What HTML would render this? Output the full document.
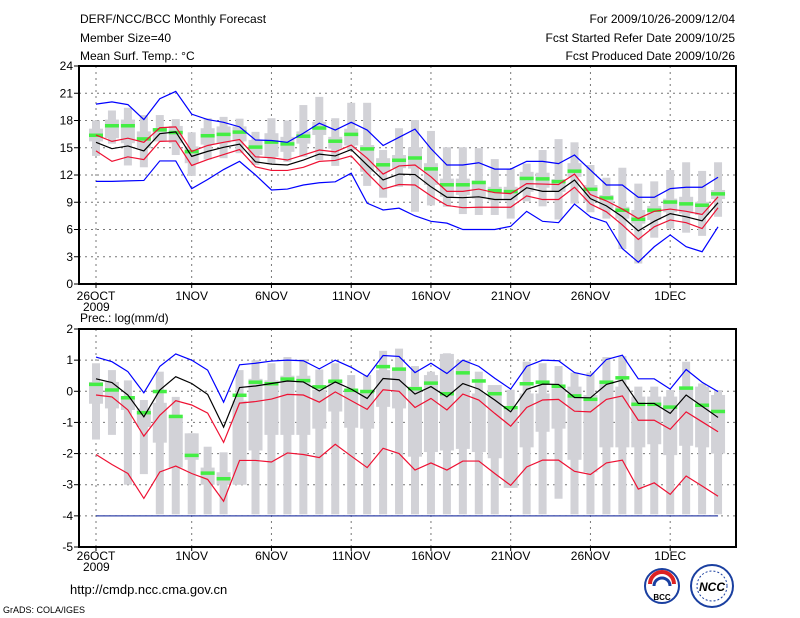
<!DOCTYPE html>
<html><head><meta charset="utf-8"><style>
html,body{margin:0;padding:0;background:#fff;width:800px;height:618px;overflow:hidden}
text{font-family:"Liberation Sans",sans-serif;fill:#000}
</style></head><body>
<svg id="chart" width="800" height="618" viewBox="0 0 800 618" xmlns="http://www.w3.org/2000/svg">
<g font-size="12">
<text x="80" y="23">DERF/NCC/BCC Monthly Forecast</text>
<text x="80" y="42">Member Size=40</text>
<text x="80" y="60">Mean Surf. Temp.: °C</text>
<text x="735" y="23" text-anchor="end">For 2009/10/26-2009/12/04</text>
<text x="735" y="42" text-anchor="end">Fcst Started Refer Date 2009/10/25</text>
<text x="735" y="60" text-anchor="end">Fcst Produced Date 2009/10/26</text>
</g>
<text x="80" y="322" font-size="12">Prec.: log(mm/d)</text>
<g id="top"></g>
<g id="bot"></g>
<text x="70" y="594" font-size="13">http://cmdp.ncc.cma.gov.cn</text>
<text x="3" y="613" font-size="9">GrADS: COLA/IGES</text>
<g>
<circle cx="662" cy="586" r="17" fill="#fff" stroke="#1a3fa0" stroke-width="2"/>
<path d="M650 584 a12 12 0 0 1 24 0" fill="none" stroke="#d22" stroke-width="4"/>
<path d="M654 586 a8 8 0 0 1 16 0" fill="none" stroke="#1a3fa0" stroke-width="3"/>
<text x="662" y="600" font-size="8" text-anchor="middle" font-weight="bold" fill="#1a3fa0">BCC</text>
</g>
<g>
<circle cx="712" cy="586" r="21" fill="#fff" stroke="#1a3fa0" stroke-width="2"/>
<ellipse cx="712" cy="586" rx="15" ry="15" fill="none" stroke="#1a3fa0" stroke-width="1" stroke-dasharray="2,2"/>
<text x="712" y="591" font-size="12" text-anchor="middle" font-style="italic" font-weight="bold" fill="#1a3fa0">NCC</text>
</g>
</svg>
<script>
const dayTicks=[0,6,11,16,21,26,31,36];
const dayLabels=["26OCT","1NOV","6NOV","11NOV","16NOV","21NOV","26NOV","1DEC"];
const tTicks=[0,3,6,9,12,15,18,21,24];
const pTicks=[-5,-4,-3,-2,-1,0,1,2];
// temperature
const tBlueMax=[19.8,20.05,19.75,18.1,20.4,21.2,18.7,18.1,17.8,17.3,15.85,15.8,15.6,16.6,17.7,16.95,17.8,16.95,15.25,16.15,17.05,14.9,13.1,13.1,13.35,12.65,12.65,13.5,13.5,13.25,14.2,12.55,10.9,10.9,9.55,9.55,10.5,10.65,10.65,11.75];
const tRedUp=[16.4,15.7,16.05,15.6,17.2,17.3,14.6,15.25,15.6,15.9,14.0,13.9,13.65,14.2,14.75,14.55,15.3,13.85,12.1,13.0,13.1,11.8,10.2,10.2,10.45,10.05,9.95,11.05,11.0,10.95,12.1,9.85,9.15,8.25,7.2,8.0,8.25,8.0,7.65,9.6];
const tMean=[15.6,14.9,15.2,14.65,16.55,16.75,14.05,14.6,15.05,15.4,13.45,13.2,13.1,13.65,14.3,14.1,14.8,13.1,11.45,12.1,12.05,10.7,9.55,9.5,9.6,9.3,9.3,10.6,10.2,10.2,11.45,9.4,8.6,7.4,5.85,6.9,7.75,7.4,6.95,8.95];
const tRedLow=[14.65,13.5,14.0,13.7,15.7,15.75,13.05,13.7,14.25,14.8,12.9,12.5,12.5,12.85,13.5,13.6,14.1,12.2,10.45,10.95,10.9,9.7,8.65,8.4,8.45,8.45,8.45,9.7,9.3,9.3,10.65,8.8,7.95,6.5,4.9,6.3,7.05,6.75,6.1,8.4];
const tBlueMin=[11.3,11.3,11.35,11.4,13.55,13.55,10.5,11.5,12.6,13.5,12.0,10.35,10.45,10.9,11.15,11.25,12.2,8.9,8.15,8.35,7.5,6.9,6.7,6.0,6.0,6.0,6.35,8.0,6.9,6.75,8.8,7.4,6.8,3.9,2.4,4.1,5.4,4.1,3.55,6.3];
const tGreen=[16.4,17.45,17.45,16.0,17.0,16.7,14.6,16.35,16.5,16.75,15.1,15.65,15.45,16.3,17.2,15.75,16.5,14.9,13.15,13.65,13.9,12.7,10.95,10.95,11.2,10.3,10.2,11.65,11.6,11.3,12.45,10.45,9.5,8.15,7.15,8.15,9.05,8.85,8.7,9.95];
const tOutHi=[18.0,19.1,19.4,18.6,18.6,18.15,16.7,18.25,18.4,18.2,16.75,18.25,18.0,19.7,20.6,18.25,19.95,19.95,14.75,17.15,18.05,16.85,15.05,15.05,14.95,13.75,12.7,13.25,14.75,15.95,15.6,13.1,11.7,12.8,11.05,11.3,12.55,13.4,12.45,13.4];
const tOutLo=[14.1,15.45,13.05,12.85,15.7,14.2,11.9,13.7,13.85,14.4,13.1,13.3,13.45,14.0,13.65,13.0,14.75,10.8,9.5,10.7,7.95,8.65,8.5,7.7,7.6,7.6,7.2,9.1,8.55,7.1,8.85,7.9,7.2,3.85,2.25,5.1,6.1,5.65,5.3,7.4];
const tInHi=[17.1,18.1,18.1,16.8,17.15,17.4,15.15,17.15,17.35,17.35,15.85,16.6,16.2,16.8,17.85,16.2,17.1,15.3,13.85,14.2,15.05,13.3,11.6,11.6,11.4,10.7,10.7,12.35,12.25,11.55,13.3,10.9,9.8,8.5,8.15,8.6,9.4,9.6,9.05,10.35];
const tInLo=[15.7,16.05,15.5,14.95,15.7,15.5,13.3,15.35,15.5,15.7,14.2,14.0,14.55,15.45,16.4,14.9,15.25,12.35,12.35,12.75,12.7,10.9,9.6,9.8,9.4,9.2,9.2,10.15,10.6,10.15,11.8,9.05,8.3,7.2,6.65,7.05,7.9,7.75,7.6,9.35];
// precipitation
const pBlueMax=[1.1,0.95,0.63,-0.05,0.8,1.2,1.0,0.68,-0.35,0.85,0.9,0.97,1.0,0.98,0.72,1.0,0.77,0.47,1.15,1.12,0.6,0.9,0.57,1.0,0.8,0.42,0.07,0.8,1.0,0.98,0.6,0.49,1.02,1.16,0.4,0.4,0.07,0.7,0.29,-0.01];
const pMean=[0.4,0.28,-0.12,-0.82,0.04,0.47,0.25,-0.1,-1.15,0.12,0.17,0.25,0.33,0.3,0.01,0.3,0.07,-0.23,0.41,0.37,-0.09,0.15,-0.18,0.25,0.07,-0.28,-0.66,0.06,0.23,0.22,-0.2,-0.21,0.22,0.36,-0.39,-0.39,-0.71,-0.12,-0.48,-0.84];
const pRedUp=[-0.12,-0.18,-0.6,-1.44,-0.77,-0.3,-0.44,-0.7,-1.64,-0.38,-0.33,-0.25,-0.1,-0.12,-0.35,-0.02,-0.3,-0.58,0.05,0.0,-0.52,-0.23,-0.6,-0.09,-0.28,-0.71,-1.12,-0.52,-0.28,-0.26,-0.64,-0.66,-0.26,-0.15,-0.93,-0.93,-1.22,-0.66,-0.98,-1.3];
const pRedLow=[-2.03,-2.35,-2.64,-3.44,-2.59,-2.4,-2.64,-2.83,-3.53,-2.22,-2.22,-2.27,-1.98,-2.03,-2.13,-1.7,-2.08,-2.45,-1.83,-2.0,-2.53,-2.3,-2.53,-2.24,-2.24,-2.64,-3.02,-2.43,-2.21,-2.21,-2.57,-2.67,-2.3,-2.21,-3.14,-2.94,-3.31,-2.72,-3.04,-3.37];
const pBlueMin=[-4,-4,-4,-4,-4,-4,-4,-4,-4,-4,-4,-4,-4,-4,-4,-4,-4,-4,-4,-4,-4,-4,-4,-4,-4,-4,-4,-4,-4,-4,-4,-4,-4,-4,-4,-4,-4,-4,-4,-4];
const pGreen=[0.23,0.05,-0.2,-0.68,0.0,-0.8,-2.05,-2.62,-2.8,-0.12,0.3,0.25,0.4,0.35,0.15,0.33,0.04,0.0,0.8,0.72,0.09,0.27,-0.07,0.6,0.34,-0.07,-0.52,0.25,0.3,0.17,-0.14,-0.25,0.3,0.44,-0.41,-0.41,-0.5,0.11,-0.44,-0.64];
const pOutHi=[0.9,0.68,0.35,-0.28,0.63,-0.18,-1.35,-1.78,-1.96,0.68,1.0,0.9,1.1,1.03,0.7,0.9,0.52,0.52,1.3,1.37,0.81,0.63,1.22,1.0,0.63,-0.01,0.05,0.95,0.9,0.81,0.6,0.6,1.1,1.13,0.15,0.15,0.04,0.95,0.25,0.04];
const pOutLo=[-1.55,-1.4,-3.0,-2.66,-3.95,-3.95,-3.95,-3.95,-3.95,-3.0,-3.95,-3.95,-3.95,-3.95,-3.95,-3.95,-3.95,-3.95,-3.95,-3.95,-3.95,-3.95,-3.95,-3.95,-3.95,-3.95,-3.1,-3.95,-3.95,-3.45,-3.95,-3.95,-3.95,-3.95,-3.95,-3.95,-3.95,-3.95,-3.95,-3.95];
const pInHi=[0.3,0.3,-0.23,-0.55,-0.37,-0.82,-1.35,-2.45,-2.6,-0.3,0.4,0.35,0.5,0.5,0.05,0.35,0.05,0.05,0.68,0.68,0.15,0.52,1.2,1.0,-0.07,0.2,-0.6,-0.07,-0.07,0.1,0.15,-0.12,0.35,0.15,-0.17,-0.17,-0.17,0.15,0.15,-0.12];
const pInLo=[-0.4,-0.55,-0.6,-1.15,-1.65,-2.45,-2.2,-3.0,-3.0,-3.0,-1.9,-1.4,-1.4,-1.4,-1.2,-0.65,-1.17,-1.2,-0.5,-0.55,-2.1,-1.95,-1.9,-1.85,-1.95,-2.15,-3.1,-1.8,-1.3,-1.2,-2.2,-2.6,-1.8,-1.8,-1.8,-1.7,-2.05,-1.75,-1.8,-2.0];

const NS="http://www.w3.org/2000/svg";
const L=79,R=736;
function xs(d){return 96+15.95*d;}
function mk(tag,attrs,parent){const e=document.createElementNS(NS,tag);for(const k in attrs)e.setAttribute(k,attrs[k]);parent.appendChild(e);return e;}

function panel(g,top,bottom,vmin,vmax,ticks,labelY,pfx,S){
  const ys=v=>top+(vmax-v)*(bottom-top)/(vmax-vmin);
  // grid
  ticks.forEach(v=>{
    if(v>vmin&&v<vmax){const l=mk('line',{x1:L,x2:R,y1:ys(v),y2:ys(v),stroke:'#777','stroke-width':1,'stroke-dasharray':'2,4'},g);
    
    }
    const t=mk('text',{x:73,y:ys(v)+4,'font-size':12,'text-anchor':'end'},g);t.textContent=v;
    
    
    const tk=mk('line',{x1:L-5,x2:L,y1:ys(v),y2:ys(v),stroke:'#000'},g);
    
    
  });
  dayTicks.forEach((d,i)=>{
    const l=mk('line',{x1:xs(d),x2:xs(d),y1:top,y2:bottom,stroke:'#777','stroke-width':1,'stroke-dasharray':'2,4'},g);
    
    
    const tk=mk('line',{x1:xs(d),x2:xs(d),y1:bottom,y2:bottom+4,stroke:'#000'},g);
    
    
    const t=mk('text',{x:xs(d),y:labelY,'font-size':12,'text-anchor':'middle'},g);t.textContent=dayLabels[i];
    
    
  });
  const yr=mk('text',{x:83,y:labelY+11,'font-size':12},g);yr.textContent='2009';
  
  
  // boxes
  for(let d=0;d<S.outHi.length;d++){
    const x=xs(d);
    const o=mk('rect',{x:x-4,y:ys(S.outHi[d]),width:8,height:Math.max(0,ys(S.outLo[d])-ys(S.outHi[d])),fill:'#d2d2d7'},g);
    
    
    const b=mk('rect',{x:x-7,y:ys(S.inHi[d]),width:14,height:Math.max(0,ys(S.inLo[d])-ys(S.inHi[d])),fill:'#d2d2d7'},g);
    
    
  }
  for(let d=0;d<S.green.length;d++){
    const x=xs(d);
    const gm=mk('rect',{x:x-7,y:ys(S.green[d])-1.5,width:14,height:3.5,fill:'#44ee44'},g);
    
    
  }
  const line=(arr,col,name)=>{
    const p=mk('polyline',{points:arr.map((v,d)=>xs(d)+','+ys(v)).join(' '),fill:'none',stroke:col,'stroke-width':1.2},g);
    
    
  };
  line(S.blueMin,pfx==='p'?'#3344aa':'#0000ff','ensemble-min-line');
  line(S.blueMax,'#0000ff','ensemble-max-line');
  line(S.redLow,'#ee1133','lower-spread-line');
  line(S.redUp,'#ee1133','upper-spread-line');
  line(S.mean,'#000','ensemble-mean-line');
  const fr=mk('rect',{x:L,y:top,width:R-L,height:bottom-top,fill:'none',stroke:'#000','stroke-width':2},g);
  
  
}
panel(document.getElementById('top'),66,284,0,24,tTicks,300,'t',
 {blueMax:tBlueMax,redUp:tRedUp,mean:tMean,redLow:tRedLow,blueMin:tBlueMin,green:tGreen,outHi:tOutHi,outLo:tOutLo,inHi:tInHi,inLo:tInLo});
panel(document.getElementById('bot'),329,547,-5,2,pTicks,560,'p',
 {blueMax:pBlueMax,redUp:pRedUp,mean:pMean,redLow:pRedLow,blueMin:pBlueMin,green:pGreen,outHi:pOutHi,outLo:pOutLo,inHi:pInHi,inLo:pInLo});
</script>
</body></html>
